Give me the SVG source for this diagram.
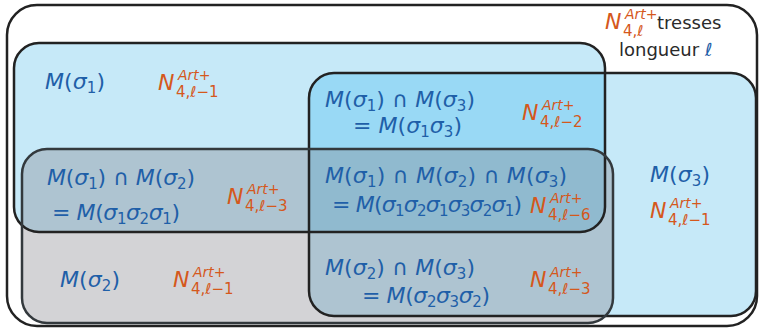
<svg xmlns="http://www.w3.org/2000/svg" width="762" height="329" viewBox="0 0 762 329">
<defs>
<style>
.m{font-family:"DejaVu Sans",sans-serif;font-size:22px;fill:#1f5fa8}
.i{font-style:italic}
.s{font-size:15px}
.n{font-family:"DejaVu Sans",sans-serif;fill:#d5581c}
.nN{font-size:22px;font-style:italic}
.nSup{font-size:14px;font-style:italic}
.nSub{font-size:15px}
.lbl{font-family:"DejaVu Sans",sans-serif;font-size:18px;fill:#2a2a2a}
.line{fill:none;stroke:#222;stroke-width:2.5}
.line2{fill:none;stroke:#33393d;stroke-width:2.5}
</style>
<clipPath id="clip-s1"><rect x="14" y="43" width="591" height="189" rx="25"/></clipPath>
</defs>

<rect width="762" height="329" fill="#ffffff"/>

<!-- region fills -->
<g id="regions">
  <rect x="14" y="43" width="591" height="189" rx="25" fill="#c6e9f8"/>
  <rect x="309" y="73" width="447" height="243" rx="25" fill="#c6e9f8"/>
  <rect x="309" y="73" width="447" height="243" rx="25" fill="#99d9f5" clip-path="url(#clip-s1)"/>
  <rect x="22" y="149" width="591" height="174" rx="25" fill="#80808a" fill-opacity="0.35"/>
</g>

<!-- universe: braids of length l -->
<g id="universe">
  <rect x="7" y="5" width="750" height="321" rx="30" class="line"/>
  <g class="n">
    <text class="nN" x="605" y="29">N</text>
    <text class="nSup" x="625" y="19">Art+</text>
    <text class="nSub" x="623" y="36">4,ℓ</text>
  </g>
  <text class="lbl" x="657" y="29">tresses</text>
  <text class="lbl" x="619" y="56">longueur <tspan fill="#1f5fa8">ℓ</tspan></text>
</g>

<g id="set-s1">
  <rect x="14" y="43" width="591" height="189" rx="25" class="line"/>
</g>
<g id="set-s3">
  <rect x="309" y="73" width="447" height="243" rx="25" class="line"/>
</g>
<g id="set-s2">
  <rect x="22" y="149" width="591" height="174" rx="25" class="line2"/>
</g>

<!-- M(s1) only -->
<g id="label-s1">
  <text class="m" x="45" y="89" textLength="60"><tspan class="i">M</tspan>(<tspan class="i">σ</tspan><tspan class="s" dy="4">1</tspan><tspan dy="-4">)</tspan></text>
  <g class="n">
    <text class="nN" x="158" y="90">N</text>
    <text class="nSup" x="178" y="80">Art+</text>
    <text class="nSub" x="176" y="97">4,ℓ−1</text>
  </g>
</g>

<!-- M(s1) ∩ M(s3) -->
<g id="label-s1s3">
  <text class="m" x="325" y="107" textLength="150"><tspan class="i">M</tspan>(<tspan class="i">σ</tspan><tspan class="s" dy="4">1</tspan><tspan dy="-4">) ∩ </tspan><tspan class="i">M</tspan>(<tspan class="i">σ</tspan><tspan class="s" dy="4">3</tspan><tspan dy="-4">)</tspan></text>
  <text class="m" x="353" y="133" textLength="109">= <tspan class="i">M</tspan>(<tspan class="i">σ</tspan><tspan class="s" dy="4">1</tspan><tspan class="i" dy="-4">σ</tspan><tspan class="s" dy="4">3</tspan><tspan dy="-4">)</tspan></text>
  <g class="n">
    <text class="nN" x="522" y="120">N</text>
    <text class="nSup" x="542" y="110">Art+</text>
    <text class="nSub" x="540" y="127">4,ℓ−2</text>
  </g>
</g>

<!-- M(s1) ∩ M(s2) -->
<g id="label-s1s2">
  <text class="m" x="47" y="185" textLength="148"><tspan class="i">M</tspan>(<tspan class="i">σ</tspan><tspan class="s" dy="4">1</tspan><tspan dy="-4">) ∩ </tspan><tspan class="i">M</tspan>(<tspan class="i">σ</tspan><tspan class="s" dy="4">2</tspan><tspan dy="-4">)</tspan></text>
  <text class="m" x="52" y="220" textLength="128">= <tspan class="i">M</tspan>(<tspan class="i">σ</tspan><tspan class="s" dy="4">1</tspan><tspan class="i" dy="-4">σ</tspan><tspan class="s" dy="4">2</tspan><tspan class="i" dy="-4">σ</tspan><tspan class="s" dy="4">1</tspan><tspan dy="-4">)</tspan></text>
  <g class="n">
    <text class="nN" x="227" y="204">N</text>
    <text class="nSup" x="247" y="194">Art+</text>
    <text class="nSub" x="245" y="211">4,ℓ−3</text>
  </g>
</g>

<!-- M(s1) ∩ M(s2) ∩ M(s3) -->
<g id="label-s1s2s3">
  <text class="m" x="325" y="183" textLength="242"><tspan class="i">M</tspan>(<tspan class="i">σ</tspan><tspan class="s" dy="4">1</tspan><tspan dy="-4">) ∩ </tspan><tspan class="i">M</tspan>(<tspan class="i">σ</tspan><tspan class="s" dy="4">2</tspan><tspan dy="-4">) ∩ </tspan><tspan class="i">M</tspan>(<tspan class="i">σ</tspan><tspan class="s" dy="4">3</tspan><tspan dy="-4">)</tspan></text>
  <text class="m" x="332" y="212" textLength="190">= <tspan class="i">M</tspan>(<tspan class="i">σ</tspan><tspan class="s" dy="4">1</tspan><tspan class="i" dy="-4">σ</tspan><tspan class="s" dy="4">2</tspan><tspan class="i" dy="-4">σ</tspan><tspan class="s" dy="4">1</tspan><tspan class="i" dy="-4">σ</tspan><tspan class="s" dy="4">3</tspan><tspan class="i" dy="-4">σ</tspan><tspan class="s" dy="4">2</tspan><tspan class="i" dy="-4">σ</tspan><tspan class="s" dy="4">1</tspan><tspan dy="-4">)</tspan></text>
  <g class="n">
    <text class="nN" x="530" y="213">N</text>
    <text class="nSup" x="550" y="203">Art+</text>
    <text class="nSub" x="548" y="220">4,ℓ−6</text>
  </g>
</g>

<!-- M(s2) only -->
<g id="label-s2">
  <text class="m" x="60" y="287" textLength="60"><tspan class="i">M</tspan>(<tspan class="i">σ</tspan><tspan class="s" dy="4">2</tspan><tspan dy="-4">)</tspan></text>
  <g class="n">
    <text class="nN" x="173" y="287">N</text>
    <text class="nSup" x="193" y="277">Art+</text>
    <text class="nSub" x="191" y="294">4,ℓ−1</text>
  </g>
</g>

<!-- M(s2) ∩ M(s3) -->
<g id="label-s2s3">
  <text class="m" x="325" y="275" textLength="150"><tspan class="i">M</tspan>(<tspan class="i">σ</tspan><tspan class="s" dy="4">2</tspan><tspan dy="-4">) ∩ </tspan><tspan class="i">M</tspan>(<tspan class="i">σ</tspan><tspan class="s" dy="4">3</tspan><tspan dy="-4">)</tspan></text>
  <text class="m" x="362" y="303" textLength="128">= <tspan class="i">M</tspan>(<tspan class="i">σ</tspan><tspan class="s" dy="4">2</tspan><tspan class="i" dy="-4">σ</tspan><tspan class="s" dy="4">3</tspan><tspan class="i" dy="-4">σ</tspan><tspan class="s" dy="4">2</tspan><tspan dy="-4">)</tspan></text>
  <g class="n">
    <text class="nN" x="530" y="287">N</text>
    <text class="nSup" x="550" y="277">Art+</text>
    <text class="nSub" x="548" y="294">4,ℓ−3</text>
  </g>
</g>

<!-- M(s3) only -->
<g id="label-s3">
  <text class="m" x="650" y="182" textLength="60"><tspan class="i">M</tspan>(<tspan class="i">σ</tspan><tspan class="s" dy="4">3</tspan><tspan dy="-4">)</tspan></text>
  <g class="n">
    <text class="nN" x="650" y="218">N</text>
    <text class="nSup" x="670" y="208">Art+</text>
    <text class="nSub" x="668" y="225">4,ℓ−1</text>
  </g>
</g>
</svg>
